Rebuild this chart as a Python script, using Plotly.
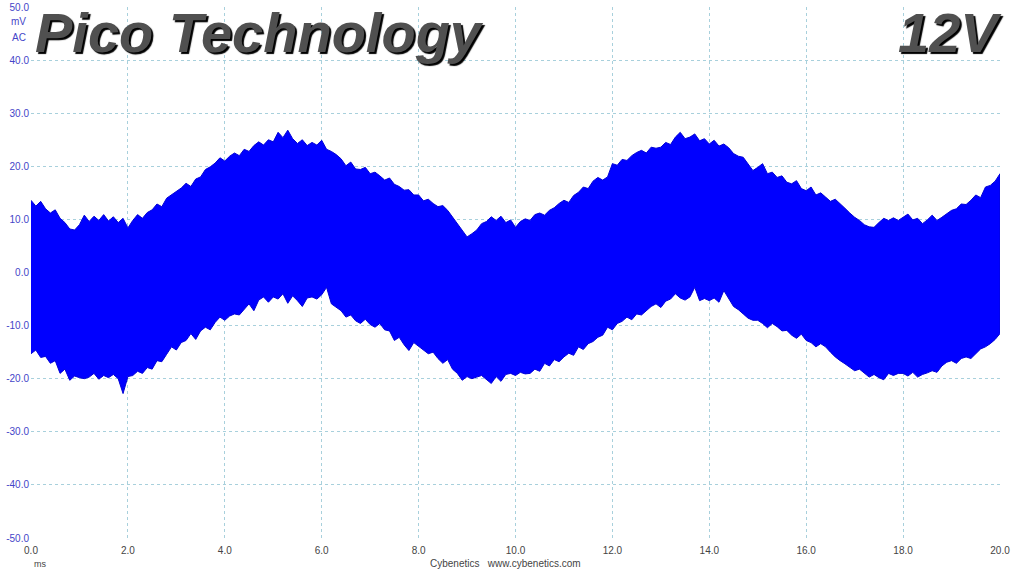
import plotly.graph_objects as go

t_ms = [round(i * 0.1, 1) for i in range(201)]

upper_mv = [
    13.6, 12.5, 13.4, 12.0, 11.2, 11.8, 10.2, 9.4, 8.2, 8.0,
    9.0, 10.8, 9.6, 10.6, 9.8, 10.9, 9.7, 10.5, 9.4, 10.2,
    8.4, 9.8, 10.9, 10.2, 11.3, 11.8, 12.9, 12.4, 14.0, 14.6,
    15.2, 15.9, 16.8, 16.2, 17.6, 18.0, 19.4, 19.9, 20.6, 21.6,
    21.0, 21.9, 22.5, 22.0, 23.2, 22.8, 23.9, 24.6, 24.0, 25.0,
    24.6, 26.4, 25.4, 26.8, 25.2, 24.3, 25.0, 23.9, 24.5, 24.0,
    24.9, 23.2, 22.8, 22.2, 21.4, 20.1, 20.8, 19.5, 19.4, 19.8,
    18.6, 18.9, 18.2, 17.4, 17.8, 16.6, 16.2, 15.5, 15.6, 14.6,
    14.6, 13.5, 13.8, 13.0, 12.4, 12.6, 11.7, 10.4, 9.3, 7.8,
    6.7, 7.3, 8.0, 9.2, 9.6, 10.5, 9.8, 10.6, 9.4, 9.9,
    8.5, 9.6, 10.1, 9.8, 10.9, 11.2, 10.8, 11.7, 12.2, 13.0,
    13.6, 13.2, 14.5, 15.1, 16.1, 15.8, 17.2, 17.9, 17.4, 18.0,
    20.5, 20.2, 21.3, 21.1, 22.0, 22.6, 23.0, 22.5, 23.6, 23.4,
    23.6, 24.5, 24.1, 25.5, 26.4, 25.2, 25.5, 26.1, 24.8, 25.2,
    24.2, 24.9, 23.8, 24.2, 23.5, 22.4, 21.9, 21.7, 20.4, 19.2,
    19.8, 20.5, 18.6, 18.9, 17.9, 18.2, 17.0, 16.7, 17.3, 15.8,
    15.4, 16.1, 14.6, 15.0, 14.2, 13.4, 13.8, 13.0, 12.1, 11.2,
    10.4, 9.8, 9.0, 8.6, 8.5, 9.4, 10.2, 9.8, 10.3, 9.8,
    10.4, 11.0, 9.9, 10.2, 9.2, 9.9, 10.8, 9.8, 10.4, 11.0,
    11.7, 12.0, 12.9, 12.8, 13.6, 14.6, 14.1, 16.1, 16.4, 17.2,
    18.6]

lower_mv = [
    -15.3, -14.6, -16.0, -15.8, -17.1, -16.6, -19.0, -18.2, -20.3, -19.5,
    -19.8, -20.0, -19.7, -19.0, -20.1, -19.4, -19.8, -19.2, -20.0, -22.8,
    -19.6, -19.4, -18.6, -19.0, -17.9, -18.2, -16.6, -16.8, -15.4, -14.0,
    -14.6, -13.2, -12.8, -11.5, -12.6, -11.0, -10.3, -10.8, -9.4, -8.4,
    -9.0, -8.2, -7.8, -8.0, -6.9, -5.9, -7.2, -5.2, -4.6, -5.6,
    -4.6, -5.0, -4.0, -5.8, -4.4, -5.3, -6.4, -4.8, -4.6, -5.0,
    -4.2, -2.8, -5.9, -6.6, -7.2, -8.4, -8.0, -9.1, -9.6, -8.8,
    -9.8, -10.3, -9.6, -10.8, -11.0, -12.8, -12.2, -13.6, -14.7, -13.2,
    -14.0, -14.6, -15.3, -15.0, -16.2, -17.1, -16.4, -18.2, -19.0, -20.3,
    -19.6, -20.0, -19.7, -19.4, -20.2, -20.9, -19.6, -20.5, -19.2, -19.0,
    -19.4, -18.8, -19.1, -19.0, -18.2, -18.6, -17.1, -17.6, -16.4, -16.8,
    -15.9, -15.2, -15.6, -14.0, -14.5, -13.4, -13.0, -12.2, -11.8, -10.3,
    -10.8, -9.6, -9.2, -8.4, -8.9, -7.8, -8.0, -7.2, -6.4, -5.9,
    -6.6, -5.4, -5.0, -4.0, -4.8, -5.2, -4.6, -2.8, -5.3, -4.9,
    -5.3, -4.8, -5.6, -3.4, -5.0, -6.4, -7.0, -7.8, -8.6, -9.0,
    -9.0, -9.6, -10.4, -9.6, -10.2, -11.0, -10.9, -11.8, -12.4, -11.6,
    -12.8, -13.2, -14.0, -13.4, -14.0, -15.0, -15.9, -16.6, -17.2, -17.8,
    -18.5, -18.2, -19.0, -19.7, -19.2, -19.8, -20.2, -19.0, -19.4, -19.0,
    -19.0, -19.5, -18.8, -19.7, -19.2, -18.9, -18.5, -18.8, -17.6, -16.9,
    -16.6, -17.1, -16.2, -15.9, -16.2, -15.4, -14.4, -14.0, -13.4, -12.6,
    -11.5]

y_ticks = [50, 40, 30, 20, 10, 0, -10, -20, -30, -40, -50]
x_ticks = [0, 2, 4, 6, 8, 10, 12, 14, 16, 18, 20]

fig = go.Figure()
fig.add_trace(go.Scatter(
    x=t_ms + t_ms[::-1],
    y=upper_mv + lower_mv[::-1],
    mode="lines",
    fill="toself",
    fillcolor="#0000ff",
    line=dict(color="#0000d8", width=1),
    hoverinfo="skip",
    showlegend=False,
))

grid = dict(showgrid=True, gridcolor="#a8d0dc", griddash="3px,3px", gridwidth=1,
            zeroline=False, showline=False, automargin=False)

fig.update_xaxes(range=[0, 20], tickvals=x_ticks,
                 ticktext=[f"{v:.1f}" for v in x_ticks],
                 tickfont=dict(family="Liberation Sans, Arial", size=10, color="#444444"),
                 ticks="", ticklabelstandoff=5, **grid)
fig.update_yaxes(range=[-50, 50], tickvals=y_ticks,
                 ticktext=[f"{v:.1f}" for v in y_ticks],
                 tickfont=dict(family="Liberation Sans, Arial", size=10, color="#4545c8"),
                 ticks="", ticklabelstandoff=1, **grid)

L, R, T, B = 31, 15, 7, 33
W, H = 1015, 571
pw, ph = W - L - R, H - T - B

def px(xp):
    return (xp - L) / pw

def py(yp):
    return (H - B - yp) / ph

ann = []
ann.append(dict(text="mV", x=px(28), y=py(22), xref="paper", yref="paper",
                xanchor="right", yanchor="middle", showarrow=False,
                font=dict(family="Liberation Sans, Arial", size=10, color="#4545c8")))
ann.append(dict(text="AC", x=px(28), y=py(37), xref="paper", yref="paper",
                xanchor="right", yanchor="middle", showarrow=False,
                font=dict(family="Liberation Sans, Arial", size=10, color="#4545c8")))
ann.append(dict(text="ms", x=px(32), y=py(564), xref="paper", yref="paper",
                xanchor="left", yanchor="middle", showarrow=False,
                font=dict(family="Liberation Sans, Arial", size=9, color="#444444")))
ann.append(dict(text="Cybenetics&nbsp;&nbsp;&nbsp;www.cybenetics.com", x=px(505), y=py(563),
                xref="paper", yref="paper", xanchor="center", yanchor="middle", showarrow=False,
                font=dict(family="Liberation Sans, Arial", size=10, color="#444444")))
ann.append(dict(text="<b><i>Pico Technology</i></b>", x=px(33), y=py(33), xref="paper", yref="paper",
                xanchor="left", yanchor="middle", showarrow=False,
                font=dict(family="Liberation Sans, Arial", size=56, color="#505050",
                          shadow="2px 2px 1px #000000")))
ann.append(dict(text="<b><i>12V</i></b>", x=px(1004), y=py(33), xref="paper", yref="paper",
                xanchor="right", yanchor="middle", showarrow=False,
                font=dict(family="Liberation Sans, Arial", size=56, color="#505050",
                          shadow="2px 2px 1px #000000")))

fig.update_layout(width=W, height=H, margin=dict(l=L, r=R, t=T, b=B),
                  plot_bgcolor="white", paper_bgcolor="white",
                  annotations=ann)

fig.write_html("out.html", config={"displayModeBar": False},
               post_script="document.body.style.margin='0';document.body.style.overflow='hidden';")
